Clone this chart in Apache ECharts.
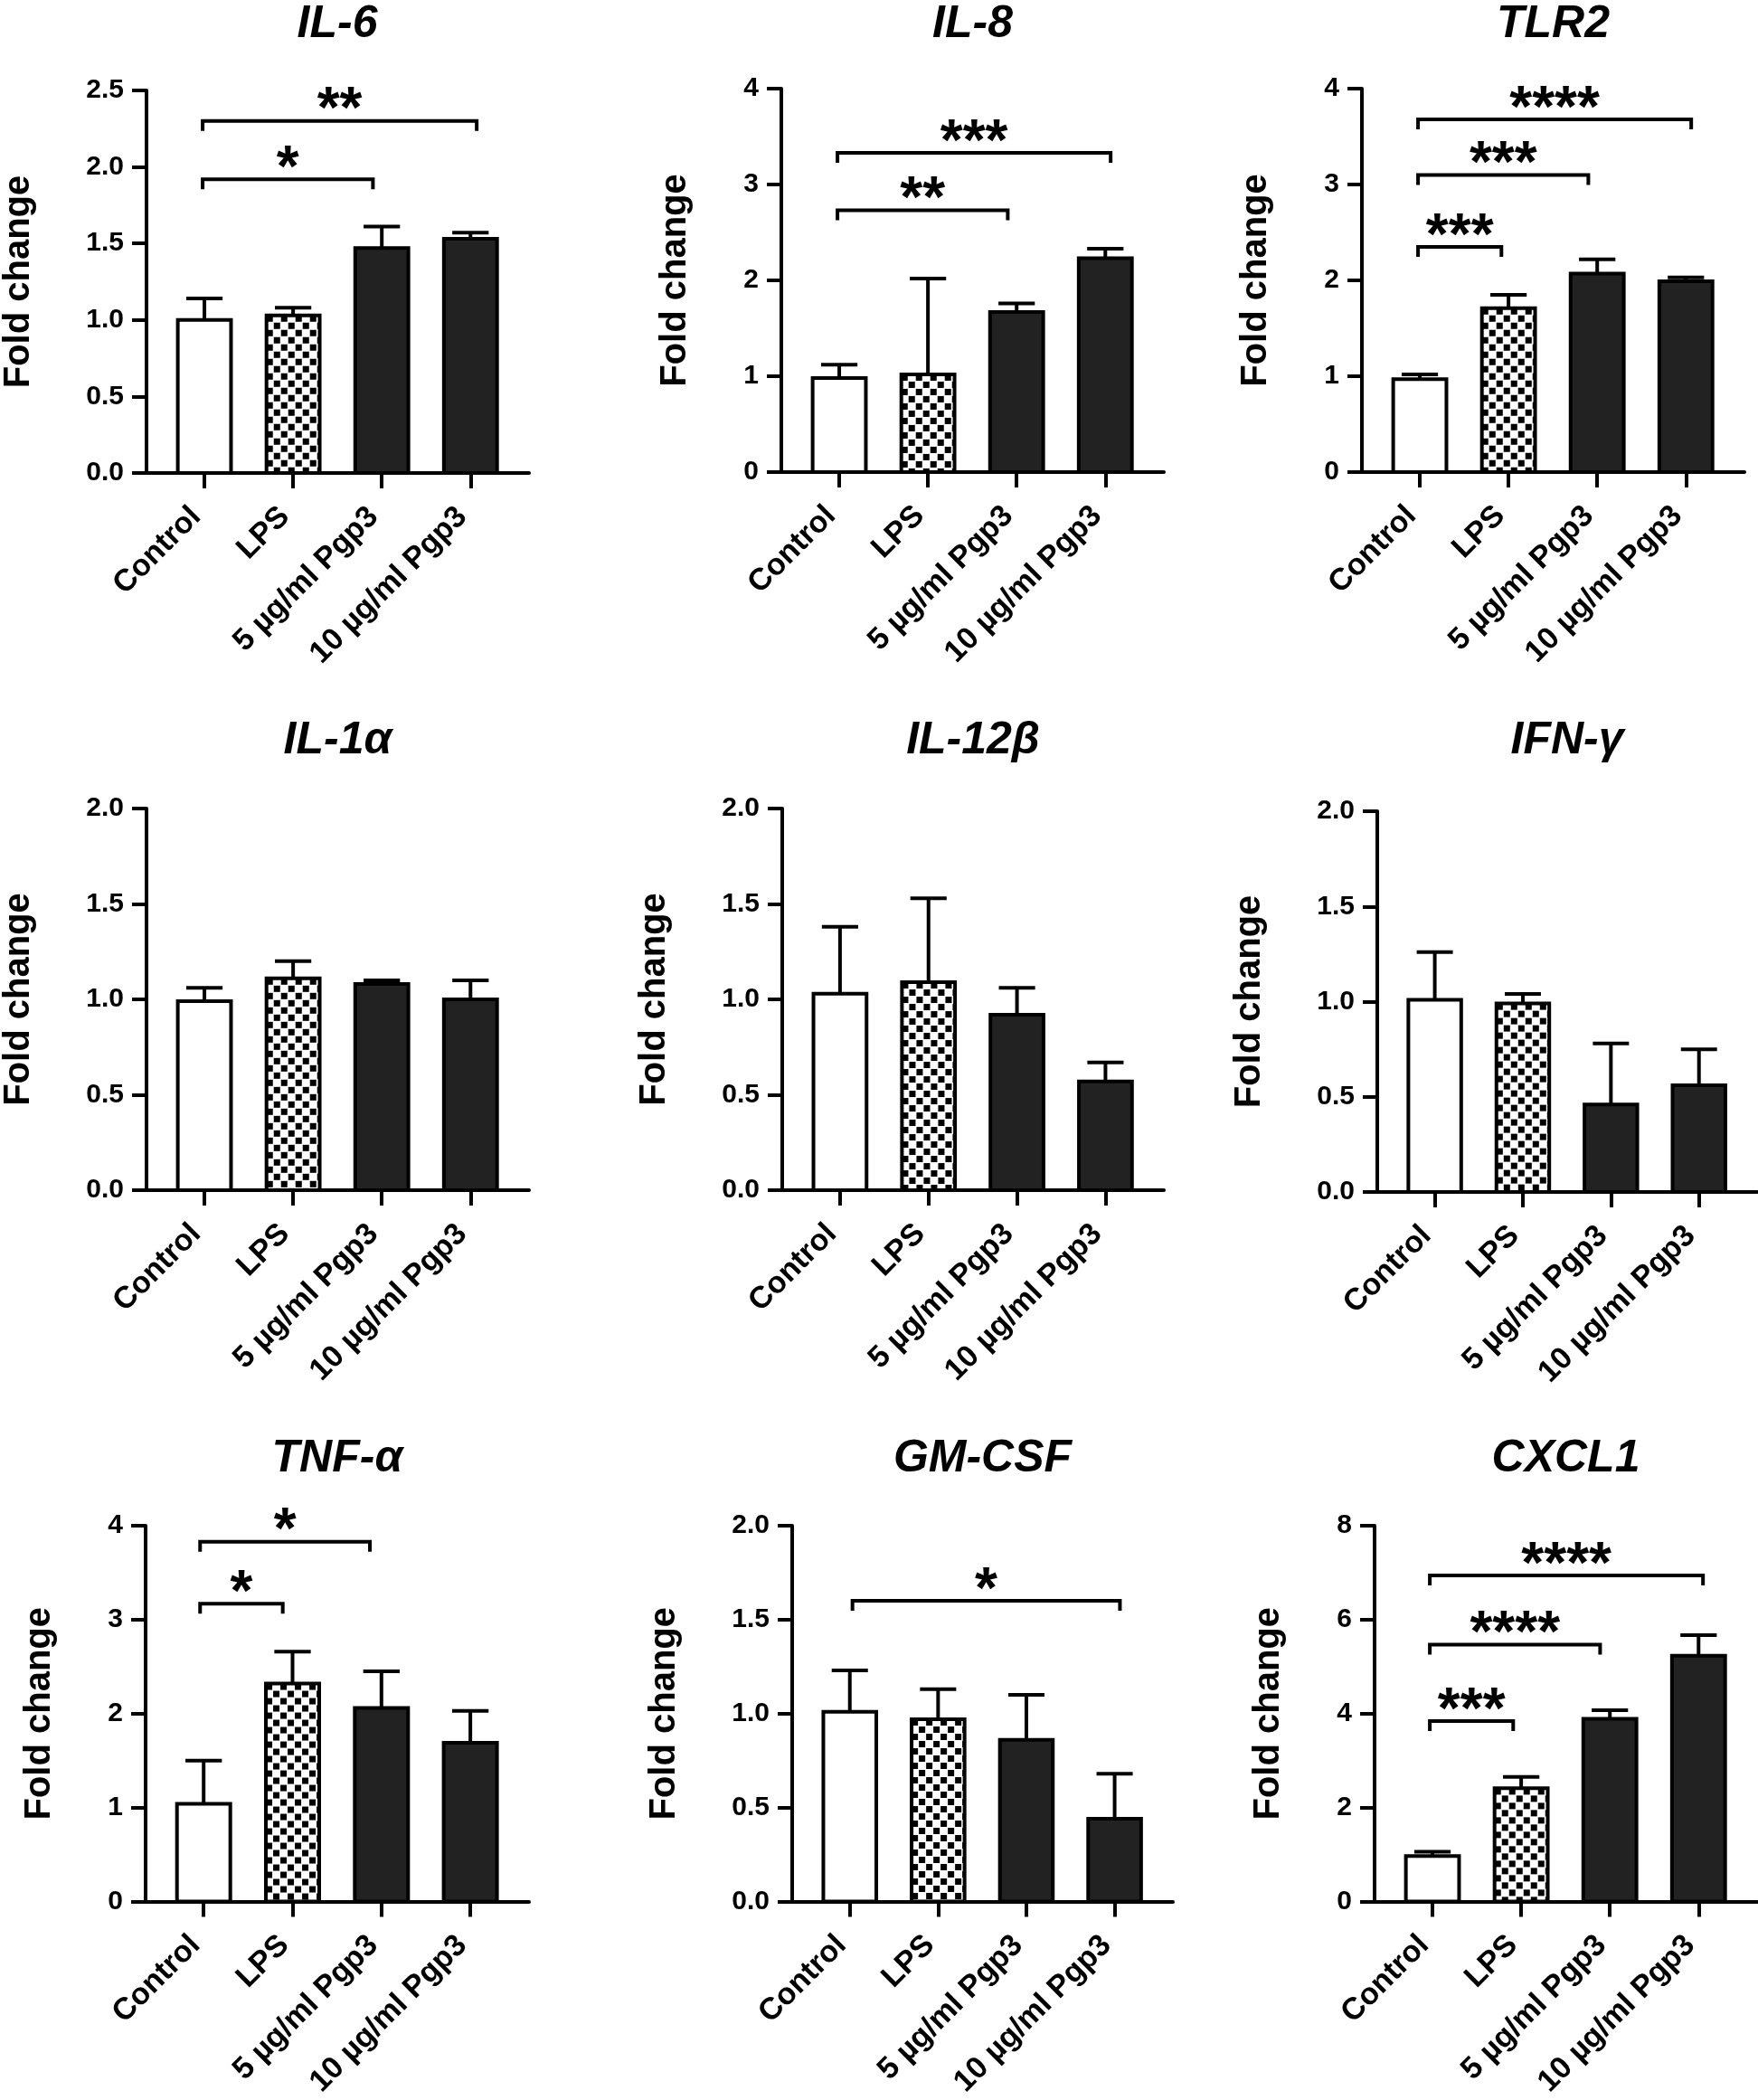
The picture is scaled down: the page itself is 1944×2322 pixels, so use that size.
<!DOCTYPE html>
<html>
<head>
<meta charset="utf-8" />
<title>Fold change</title>
<script src="https://cdn.jsdelivr.net/npm/echarts@6.0.0/dist/echarts.min.js"></script>
<style>
  html, body { margin: 0; padding: 0; background: #fff; }
  #main { width: 1944px; height: 2322px; }
</style>
</head>
<body>
<div id="main"></div>
<script>
var categories = ['Control', 'LPS', '5 µg/ml Pgp3', '10 µg/ml Pgp3'];

// bar tops (mean) and error bar tops
var il6Mean = [1.00, 1.03, 1.47, 1.53];
var il6Upper = [1.14, 1.08, 1.61, 1.57];
var il8Mean = [0.98, 1.02, 1.67, 2.23];
var il8Upper = [1.12, 2.02, 1.76, 2.33];
var tlr2Mean = [0.97, 1.71, 2.07, 1.99];
var tlr2Upper = [1.02, 1.85, 2.22, 2.03];
var il1aMean = [0.99, 1.11, 1.08, 1.00];
var il1aUpper = [1.06, 1.20, 1.10, 1.10];
var il12bMean = [1.03, 1.09, 0.92, 0.57];
var il12bUpper = [1.38, 1.53, 1.06, 0.67];
var ifngMean = [1.01, 0.99, 0.46, 0.56];
var ifngUpper = [1.26, 1.04, 0.78, 0.75];
var tnfaMean = [1.04, 2.32, 2.06, 1.69];
var tnfaUpper = [1.50, 2.66, 2.45, 2.03];
var gmcsfMean = [1.01, 0.97, 0.86, 0.44];
var gmcsfUpper = [1.23, 1.13, 1.10, 0.68];
var cxcl1Mean = [0.97, 2.41, 3.89, 5.23];
var cxcl1Upper = [1.06, 2.65, 4.07, 5.67];

// significance brackets: [from, to, height, label]
var il6Sig = [[-0.02, 1.90, 1.92, '*'], [-0.02, 3.07, 2.30, '**']];
var il8Sig = [[-0.02, 1.90, 2.73, '**'], [-0.02, 3.06, 3.33, '***']];
var tlr2Sig = [[-0.02, 0.92, 2.35, '***'], [-0.02, 1.90, 3.10, '***'], [-0.02, 3.06, 3.68, '****']];
var tnfaSig = [[-0.04, 0.89, 3.17, '*'], [-0.04, 1.87, 3.83, '*']];
var gmcsfSig = [[0.03, 3.06, 1.60, '*']];
var cxcl1Sig = [[-0.03, 0.91, 3.84, '***'], [-0.03, 1.89, 5.47, '****'], [-0.03, 3.05, 6.94, '****']];

var panels = [
  { title: 'IL-6', mean: il6Mean, upper: il6Upper, sig: il6Sig, max: 2.5, step: 0.5 },
  { title: 'IL-8', mean: il8Mean, upper: il8Upper, sig: il8Sig, max: 4, step: 1 },
  { title: 'TLR2', mean: tlr2Mean, upper: tlr2Upper, sig: tlr2Sig, max: 4, step: 1 },
  { title: 'IL-1α', mean: il1aMean, upper: il1aUpper, sig: [], max: 2, step: 0.5 },
  { title: 'IL-12β', mean: il12bMean, upper: il12bUpper, sig: [], max: 2, step: 0.5 },
  { title: 'IFN-γ', mean: ifngMean, upper: ifngUpper, sig: [], max: 2, step: 0.5 },
  { title: 'TNF-α', mean: tnfaMean, upper: tnfaUpper, sig: tnfaSig, max: 4, step: 1 },
  { title: 'GM-CSF', mean: gmcsfMean, upper: gmcsfUpper, sig: gmcsfSig, max: 2, step: 0.5 },
  { title: 'CXCL1', mean: cxcl1Mean, upper: cxcl1Upper, sig: cxcl1Sig, max: 8, step: 2 }
];

var grids = [
  { left: 161, top: 100, width: 424, height: 423 },
  { left: 864, top: 98, width: 423, height: 424 },
  { left: 1506, top: 98, width: 423, height: 424 },
  { left: 162, top: 894, width: 423, height: 422 },
  { left: 865, top: 894, width: 422, height: 422 },
  { left: 1523, top: 897, width: 420, height: 421 },
  { left: 161, top: 1687, width: 424, height: 422 },
  { left: 876, top: 1687, width: 421, height: 421 },
  { left: 1520, top: 1687, width: 423, height: 422 }
];
var titleY = [27, 819, 1613];

var font = '"Liberation Sans", Arial, sans-serif';

// checkered fill of the LPS bars
var checker = document.createElement('canvas');
checker.width = 16;
checker.height = 16;
var cctx = checker.getContext('2d');
cctx.fillStyle = '#fff';
cctx.fillRect(0, 0, 16, 16);
cctx.fillStyle = '#000';
cctx.fillRect(0, 0, 7, 7);
cctx.fillRect(8, 8, 7, 7);

function barFill(k, x, y) {
  if (k === 0) return '#fff';
  if (k === 1) return { image: checker, repeat: 'repeat', x: x, y: y };
  return '#222';
}

var line = { color: '#000', width: 4 };

var option = {
  animation: false,
  backgroundColor: '#fff',
  grid: grids,
  graphic: panels.map(function (p, i) {
    return {
      type: 'text',
      x: grids[i].left + grids[i].width / 2,
      y: titleY[Math.floor(i / 3)],
      style: {
        text: p.title, align: 'center', verticalAlign: 'middle',
        font: 'italic bold 50px ' + font, fill: '#000'
      }
    };
  }),
  xAxis: panels.map(function (p, i) {
    return {
      type: 'value', gridIndex: i, min: -0.653, max: 3.66,
      axisLine: { onZero: true, lineStyle: line },
      axisTick: { show: true, customValues: [0, 1, 2, 3], length: 17, lineStyle: line },
      axisLabel: {
        customValues: [0, 1, 2, 3], rotate: 45, margin: 34, padding: [0, 13, 0, 0],
        formatter: function (v) { return categories[Math.round(v)]; },
        fontFamily: font, fontSize: 34, fontWeight: 'bold', color: '#000'
      },
      splitLine: { show: false }
    };
  }),
  yAxis: panels.map(function (p, i) {
    return {
      type: 'value', gridIndex: i, min: 0, max: p.max, interval: p.step,
      name: 'Fold change', nameLocation: 'middle', nameGap: p.step < 1 ? 121 : 97,
      nameTextStyle: { fontFamily: font, fontSize: 40, fontWeight: 'bold', color: '#000' },
      axisLine: { show: true, onZero: false, lineStyle: line },
      axisTick: { show: true, length: 16, lineStyle: line },
      axisLabel: {
        margin: 25, fontFamily: font, fontSize: 30, fontWeight: 'bold', color: '#000',
        formatter: function (v) { return p.step < 1 ? v.toFixed(1) : String(v); }
      },
      splitLine: { show: false }
    };
  }),
  series: []
};

panels.forEach(function (p, i) {
  option.series.push({
    type: 'custom', xAxisIndex: i, yAxisIndex: i,
    data: p.mean.map(function (m, k) { return [k, m, p.upper[k]]; }),
    renderItem: function (params, api) {
      var k = Math.round(api.value(0));
      var base = api.coord([k, 0]);
      var top = api.coord([k, api.value(1)]);
      var err = api.coord([k, api.value(2)]);
      var w = api.size([0.6, 0])[0];
      var cap = api.size([0.41, 0])[0];
      var left = base[0] - w / 2;
      return {
        type: 'group',
        children: [
          { type: 'line', shape: { x1: base[0], y1: top[1], x2: base[0], y2: err[1] }, style: { stroke: '#000', lineWidth: 4 } },
          { type: 'line', shape: { x1: base[0] - cap / 2, y1: err[1], x2: base[0] + cap / 2, y2: err[1] }, style: { stroke: '#000', lineWidth: 4 } },
          { type: 'rect', shape: { x: left, y: top[1], width: w, height: base[1] - top[1] },
            style: { fill: barFill(k, left, top[1]), stroke: '#000', lineWidth: 4 } }
        ]
      };
    }
  });
  option.series.push({
    type: 'custom', xAxisIndex: i, yAxisIndex: i,
    data: p.sig.map(function (s) { return [s[0], s[1], s[2]]; }),
    renderItem: function (params, api) {
      var a = api.coord([api.value(0), api.value(2)]);
      var b = api.coord([api.value(1), api.value(2)]);
      var label = p.sig[params.dataIndex][3];
      return {
        type: 'group',
        children: [
          { type: 'polyline', shape: { points: [[a[0], a[1] + 11], [a[0], a[1]], [b[0], b[1]], [b[0], b[1] + 11]] },
            style: { fill: 'none', stroke: '#000', lineWidth: 4 } },
          { type: 'text', x: (a[0] + b[0]) / 2, y: a[1] - 10,
            style: { text: label, align: 'center', verticalAlign: 'middle', font: 'bold 64px ' + font, fill: '#000' } }
        ]
      };
    }
  });
});

var myChart = echarts.init(document.getElementById('main'));
myChart.setOption(option);
</script>
</body>
</html>
